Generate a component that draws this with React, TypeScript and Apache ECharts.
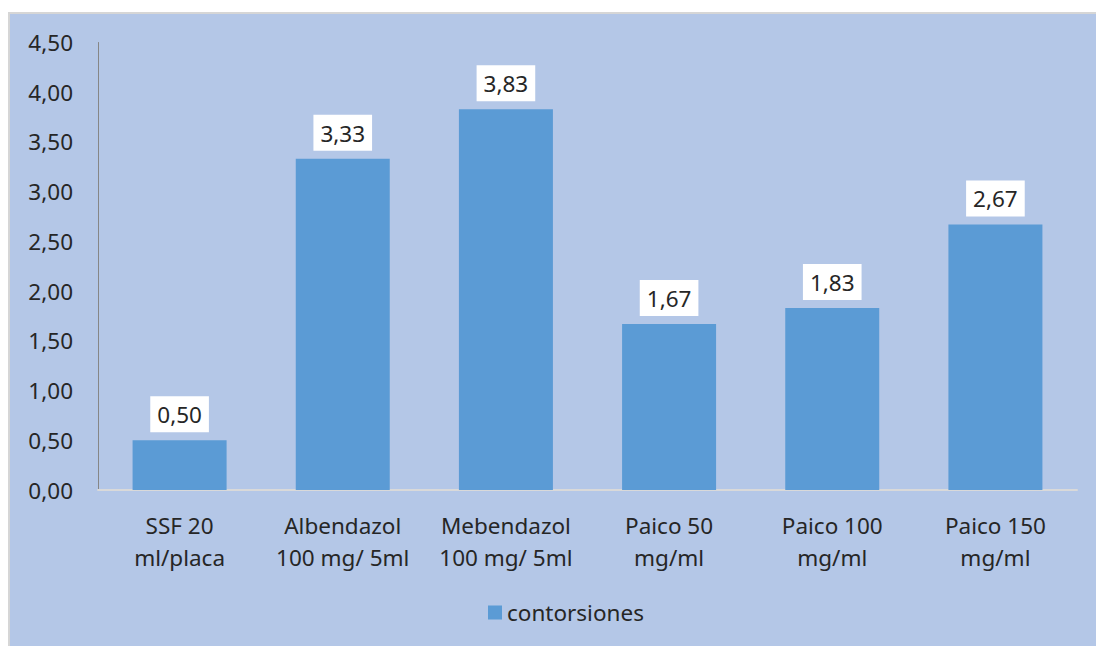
import React, { useEffect, useRef } from "react";
import * as echarts from "echarts";

const categories = [
  "SSF 20\nml/placa",
  "Albendazol\n100 mg/ 5ml",
  "Mebendazol\n100 mg/ 5ml",
  "Paico 50\nmg/ml",
  "Paico 100\nmg/ml",
  "Paico 150\nmg/ml",
];
const seriesName = "contorsiones";
const values = [0.5, 3.33, 3.83, 1.67, 1.83, 2.67];

const fmt = (v: number) => v.toFixed(2).replace(".", ",");

export default function App() {
  const ref = useRef<HTMLDivElement>(null);
  useEffect(() => {
    if (!ref.current) return;
    const chart = echarts.init(ref.current, null, { renderer: "svg" });
    const font = "'Noto Sans', sans-serif";
    const fs = 22.5;
    chart.setOption({
      animation: false,
      backgroundColor: "#b4c7e7",
      textStyle: { fontFamily: font },
      grid: { left: 88, right: 19, top: 28.5, bottom: 156, containLabel: false },
      legend: {
        data: [seriesName],
        left: 473,
        top: 582,
        itemWidth: 14,
        itemHeight: 14,
        itemGap: 8,
        icon: "rect",
        textStyle: { fontSize: fs, color: "#262626", fontFamily: font },
      },
      xAxis: {
        type: "category",
        data: categories,
        axisLine: { show: true, lineStyle: { color: "#d9d9d9", width: 2 } },
        axisTick: { show: false },
        axisLabel: {
          fontSize: fs,
          color: "#262626",
          lineHeight: 32,
          margin: 19,
          interval: 0,
          fontFamily: font,
        },
      },
      yAxis: {
        type: "value",
        min: 0,
        max: 4.5,
        interval: 0.5,
        splitLine: { show: false },
        axisTick: { show: false },
        axisLine: { show: true, lineStyle: { color: "#868686", width: 1 } },
        axisLabel: {
          fontSize: fs,
          color: "#262626",
          margin: 25,
          formatter: (v: number) => fmt(v),
          fontFamily: font,
        },
      },
      series: [
        {
          name: seriesName,
          type: "bar",
          data: values,
          barWidth: 94,
          itemStyle: { color: "#5b9bd5" },
          label: {
            show: true,
            position: "top",
            distance: 8,
            formatter: (p: any) => fmt(p.value),
            backgroundColor: "#ffffff",
            padding: [7, 7, 6, 7],
            fontSize: fs,
            color: "#262626",
            fontFamily: font,
          },
        },
      ],
    });
    return () => chart.dispose();
  }, []);
  return (
    <div style={{ position: "absolute", left: 0, top: 0, width: 1096, height: 646, background: "#ffffff", overflow: "hidden" }}>
      <div
        style={{
          position: "absolute",
          left: 8,
          top: 12,
          width: 1088,
          height: 634,
          boxSizing: "border-box",
          borderLeft: "2px solid #d6d6d6",
          borderTop: "2px solid #d6d6d6",
          background: "#b4c7e7",
        }}
      >
        <div ref={ref} style={{ width: 1086, height: 632 }} />
      </div>
    </div>
  );
}
